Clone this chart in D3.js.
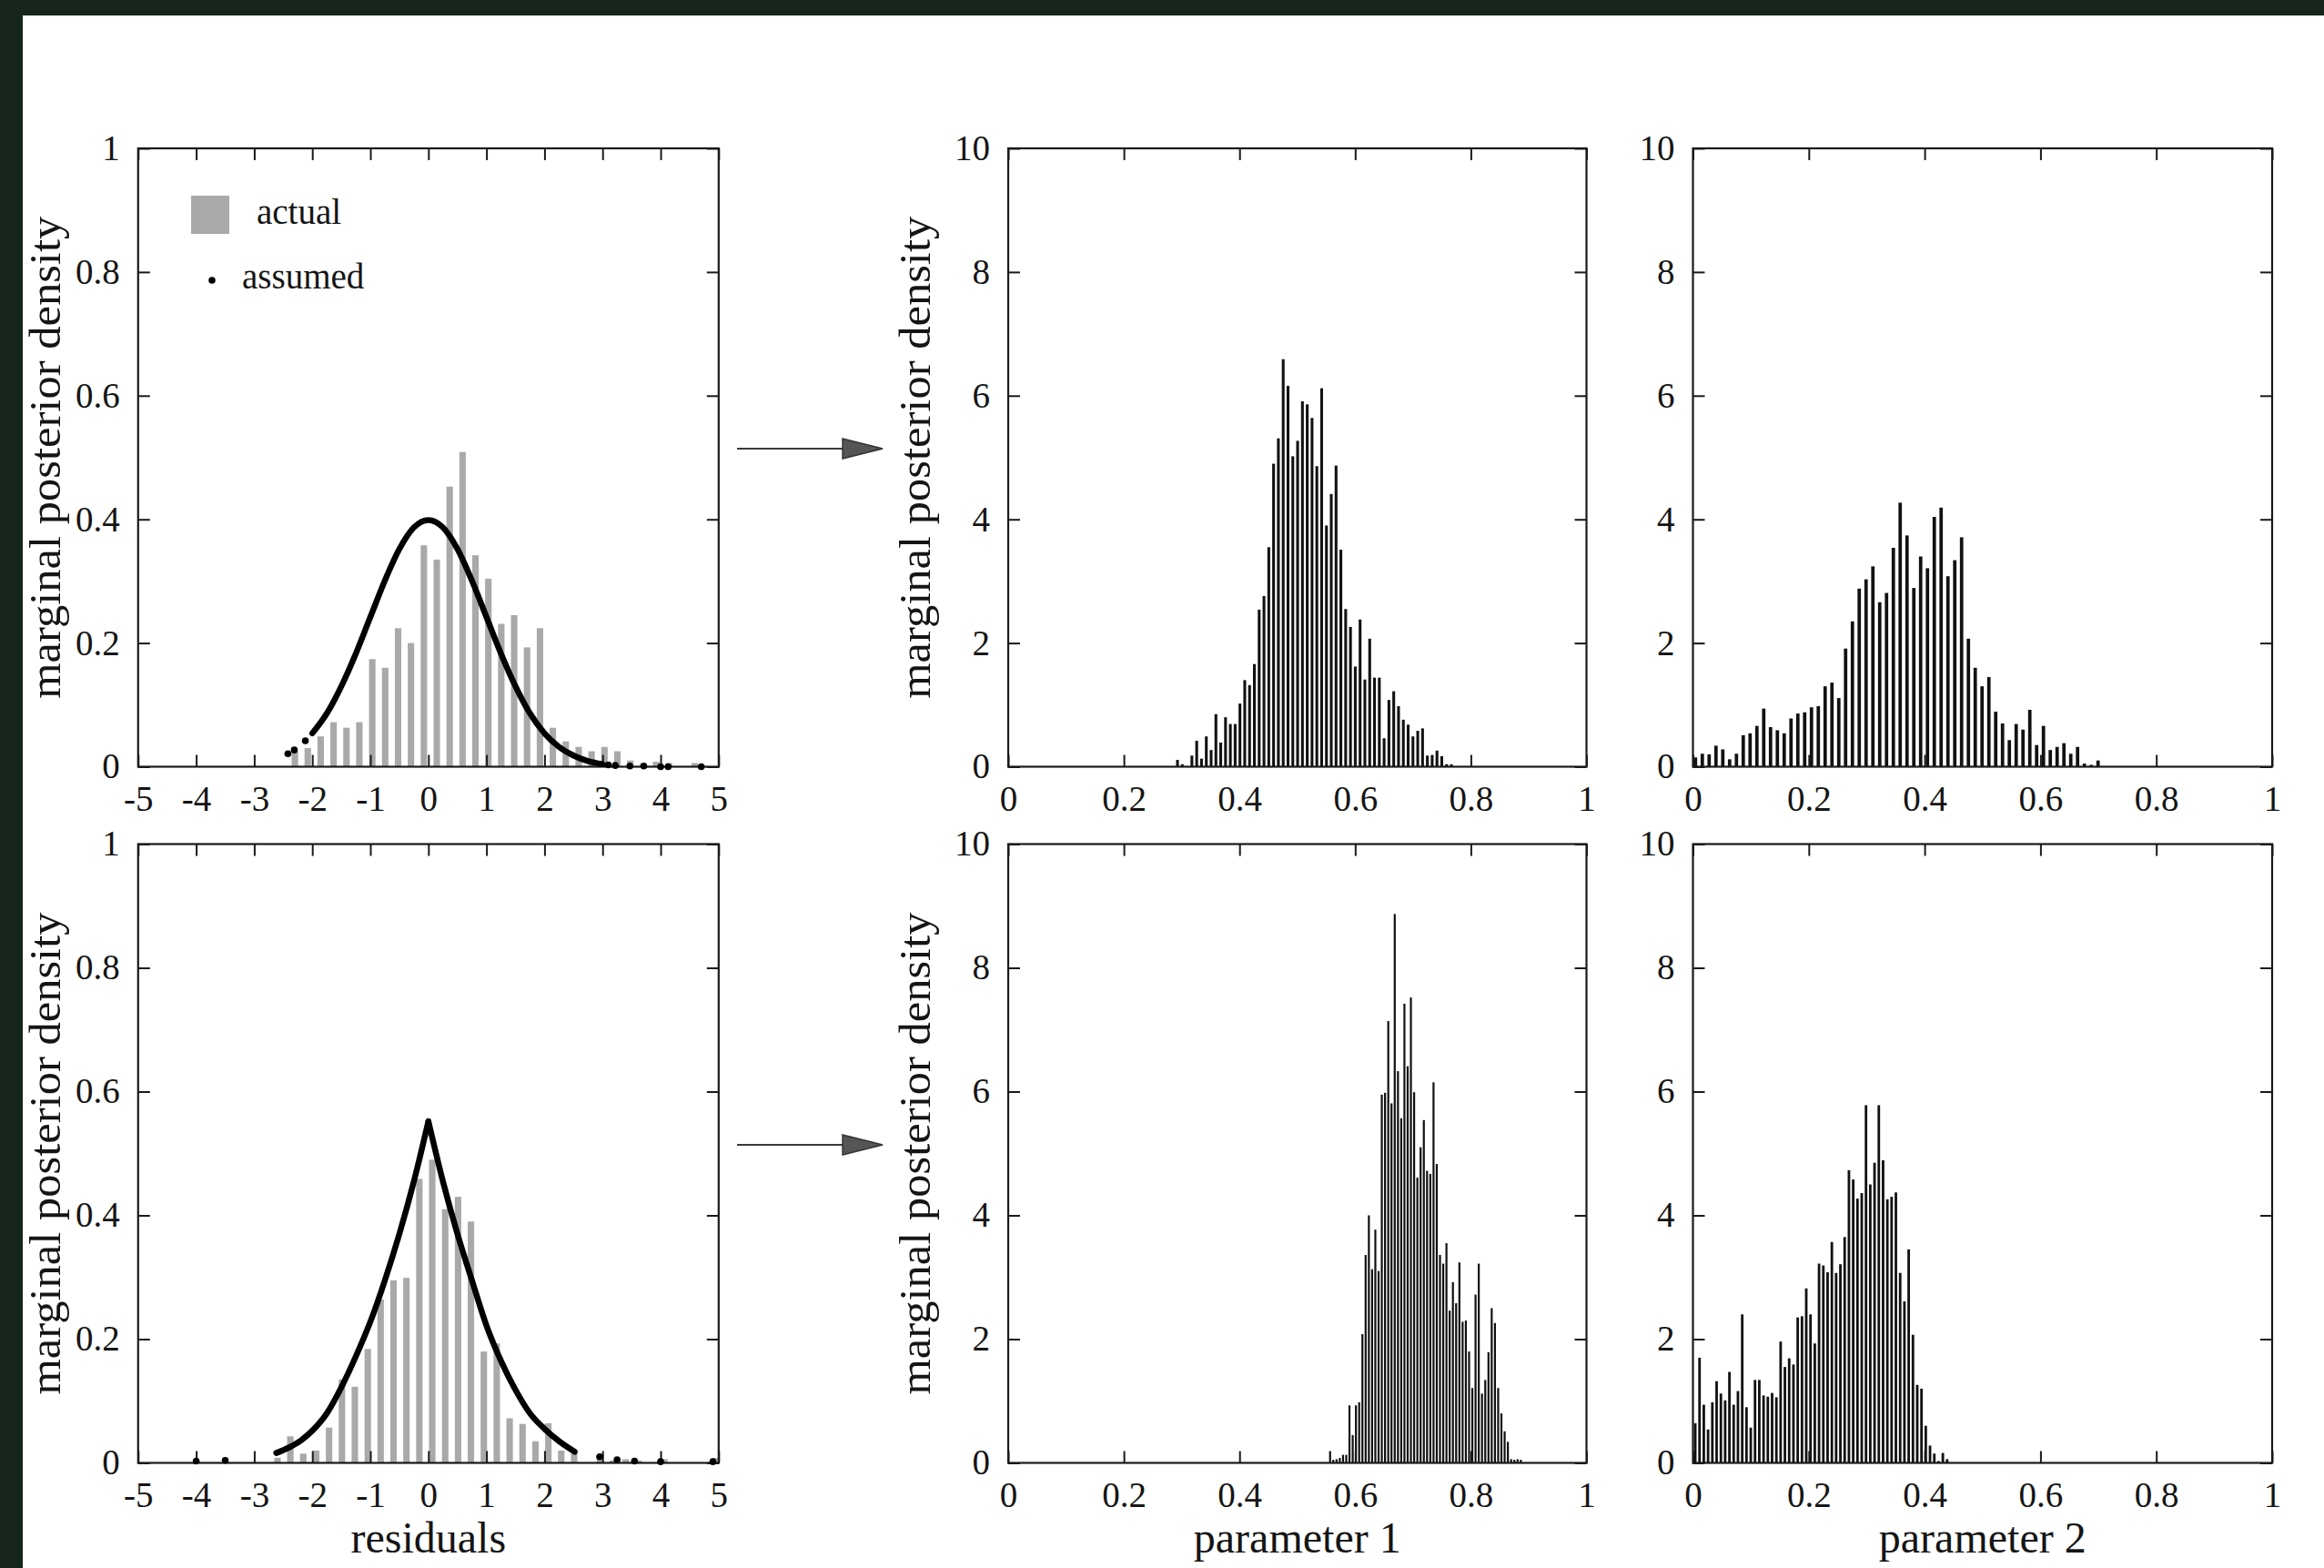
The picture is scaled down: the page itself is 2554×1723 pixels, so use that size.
<!DOCTYPE html>
<html>
<head>
<meta charset="utf-8">
<script src="https://cdn.jsdelivr.net/npm/d3@7"></script>
<style>
  html, body { margin: 0; padding: 0; background: #fff; }
  svg { display: block; }
  text { font-family: "Liberation Serif", "Times New Roman", serif; fill: #151515; }
</style>
</head>
<body>
<svg id="fig" width="2554" height="1723"></svg>
<script>
// ---- tick labels ----
const residualTicks = [-5, -4, -3, -2, -1, 0, 1, 2, 3, 4, 5];
const residualDensityTicks = [0, 0.2, 0.4, 0.6, 0.8, 1];
const paramTicks = [0, 0.2, 0.4, 0.6, 0.8, 1];
const paramDensityTicks = [0, 2, 4, 6, 8, 10];

// ---- top row: residual histogram ("actual") and assumed density dots ----
const topResidBinStart = -2.30;   // centre of first bin
const topResidBinWidth = 0.2222;
const topResidActual = [0.024, 0.030, 0.049, 0.072, 0.063, 0.072, 0.174, 0.160, 0.224, 0.200,
  0.358, 0.335, 0.453, 0.509, 0.342, 0.304, 0.231, 0.245, 0.193, 0.224,
  0.063, 0.041, 0.032, 0.025, 0.032, 0.025, 0.010, 0.005, 0.008, 0.006, 0, 0.006, 0];
const topAssumedX = [-2.0, -1.75, -1.5, -1.25, -1.0, -0.75, -0.5, -0.25, 0, 0.25, 0.5, 0.75,
  1.0, 1.25, 1.5, 1.75, 2.0, 2.25, 2.5, 2.75, 3.0];
const topAssumedY = [0.054, 0.086, 0.130, 0.183, 0.242, 0.301, 0.352, 0.387, 0.399, 0.387, 0.352, 0.301,
  0.242, 0.183, 0.130, 0.086, 0.054, 0.032, 0.018, 0.009, 0.004];
const topAssumedTailX = [-2.42, -2.31, -2.12, 3.1, 3.22, 3.47, 3.71, 4.0, 4.13, 4.7];
const topAssumedTailY = [0.021, 0.027, 0.042, 0.003, 0.002, 0.001, 0.001, 0, 0, 0];

// ---- bottom row: residual histogram and assumed density ----
const botResidBinStart = -2.60;
const botResidBinWidth = 0.2222;
const botResidActual = [0.008, 0.043, 0.015, 0.020, 0.057, 0.135, 0.123, 0.184, 0.264, 0.295,
  0.299, 0.459, 0.490, 0.410, 0.430, 0.390, 0.180, 0.193, 0.072, 0.063,
  0.035, 0.064, 0.020, 0.016, 0, 0.008, 0.004, 0.006, 0.004, 0, 0.006, 0, 0, 0, 0.008];
const botAssumedLeftX = [-2.62, -2.4, -2.2, -2.0, -1.75, -1.5, -1.25, -1.0, -0.75, -0.5, -0.25, 0];
const botAssumedLeftY = [0.016, 0.025, 0.036, 0.052, 0.080, 0.122, 0.172, 0.228, 0.295, 0.370, 0.455, 0.552];
const botAssumedRightX = [0, 0.25, 0.5, 0.75, 1.0, 1.25, 1.5, 1.75, 2.0, 2.25, 2.52];
const botAssumedRightY = [0.552, 0.455, 0.370, 0.295, 0.222, 0.165, 0.118, 0.080, 0.055, 0.035, 0.018];
const botAssumedTailX = [-4.0, -3.5, 2.95, 3.25, 3.55, 4.0, 4.9];
const botAssumedTailY = [0.003, 0.004, 0.010, 0.005, 0.003, 0.002, 0.002];

// ---- parameter posteriors ----
const topP1BinStart = 0.2927, topP1BinWidth = 0.00831;
const topP1 = [0.11, 0.04, 0, 0.18, 0.42, 0.13, 0.49, 0.27, 0.85, 0.39,
  0.80, 0.69, 0.69, 1.02, 1.40, 1.32, 1.66, 2.54, 2.76, 3.55,
  4.90, 5.31, 6.59, 6.16, 5.02, 5.27, 5.91, 5.86, 5.64, 4.86,
  6.12, 3.90, 4.41, 4.87, 3.51, 2.55, 2.26, 1.62, 2.38, 1.41,
  2.07, 1.44, 1.44, 0.46, 1.08, 1.22, 0.98, 0.76, 0.68, 0.49,
  0.58, 0.62, 0.18, 0.19, 0.26, 0.17, 0.04, 0.04];

const topP2BinStart = 0.0044, topP2BinWidth = 0.01178;
const topP2 = [0.15, 0.21, 0.20, 0.34, 0.28, 0.12, 0.21, 0.51, 0.54, 0.66,
  0.94, 0.64, 0.59, 0.54, 0.78, 0.86, 0.88, 0.96, 0.98, 1.30,
  1.36, 1.11, 1.91, 2.35, 2.88, 3.03, 3.24, 2.66, 2.81, 3.54,
  4.27, 3.74, 2.89, 3.40, 3.21, 4.04, 4.19, 3.08, 3.34, 3.71,
  2.07, 1.60, 1.30, 1.45, 0.89, 0.70, 0.43, 0.69, 0.60, 0.92,
  0.35, 0.66, 0.27, 0.32, 0.38, 0.21, 0.32, 0.05, 0.03, 0.10];

const botP1BinStart = 0.5566, botP1BinWidth = 0.00559;
const botP1 = [0.19, 0.05, 0.06, 0.08, 0.13, 0.13, 0.93, 0.45, 0.93, 0.98,
  2.08, 3.36, 4.00, 3.13, 3.77, 3.10, 5.95, 5.98, 7.14, 5.81,
  8.87, 6.33, 5.57, 7.42, 6.41, 7.52, 5.99, 4.61, 5.10, 5.54,
  4.72, 4.67, 6.15, 4.83, 3.36, 3.22, 3.55, 2.46, 2.92, 2.58,
  3.24, 2.28, 2.30, 1.80, 1.21, 2.72, 3.22, 1.12, 1.34, 1.79,
  2.50, 2.26, 1.21, 0.80, 0.51, 0.34, 0.06, 0.05, 0.06, 0.05];

const botP2BinStart = 0.004, botP2BinWidth = 0.00737;
const botP2 = [0.64, 1.70, 0.94, 0.54, 0.98, 1.32, 1.12, 1.01, 1.47, 0.94,
  1.16, 2.40, 0.90, 0.57, 1.34, 1.34, 1.09, 1.07, 1.13, 1.06,
  1.96, 1.55, 1.69, 1.59, 2.35, 2.37, 2.82, 2.40, 1.93, 3.22,
  3.19, 3.08, 3.57, 3.07, 3.21, 3.65, 4.73, 4.58, 4.27, 4.36,
  5.78, 4.50, 4.85, 5.78, 4.89, 4.26, 4.30, 4.37, 3.07, 2.61,
  3.45, 2.07, 1.26, 1.20, 0.60, 0.28, 0.15, 0.03, 0.16, 0.06];

const yLabel = 'marginal posterior density';

// ---- layout ----
const cols = [[151.8, 789.8], [1108, 1743.5], [1860.5, 2497]];
const rows = [[163, 842.5], [927.5, 1607.5]];
const tickLen = 13;
const tickFont = 39;

const svg = d3.select('#fig');
svg.append('rect').attr('width', 2554).attr('height', 1723).attr('fill', '#fff');

function styleAxis (sel) {
  sel.select('.domain').remove();
  sel.selectAll('line').attr('stroke', '#1a1a1a').attr('stroke-width', 2);
  sel.selectAll('text')
    .attr('font-family', '"Liberation Serif", "Times New Roman", serif')
    .attr('font-size', tickFont)
    .attr('fill', '#151515');
}

function drawPanel (cfg) {
  const [x0, x1] = cols[cfg.col];
  const [y0, y1] = rows[cfg.row];
  const x = d3.scaleLinear().domain(cfg.xDomain).range([x0, x1]);
  const y = d3.scaleLinear().domain(cfg.yDomain).range([y1, y0]);
  const g = svg.append('g');

  // histogram bars
  const barW = x(cfg.binWidth * cfg.frac) - x(0);
  g.append('g').selectAll('rect')
    .data(cfg.heights)
    .join('rect')
      .attr('x', (d, i) => x(cfg.binStart + i * cfg.binWidth) - barW / 2)
      .attr('width', barW)
      .attr('y', (d) => y(d))
      .attr('height', (d) => Math.max(y(0) - y(d), 0))
      .attr('fill', cfg.barColor);

  const fmt = (d) => String(d);

  // bottom axis with labels, ticks pointing in
  g.append('g')
    .attr('transform', 'translate(0,' + y1 + ')')
    .call(d3.axisBottom(x).tickValues(cfg.xTicks).tickSizeInner(-tickLen).tickSizeOuter(0)
      .tickPadding(21).tickFormat(fmt))
    .call(styleAxis);

  // top axis, ticks only
  g.append('g')
    .attr('transform', 'translate(0,' + y0 + ')')
    .call(d3.axisTop(x).tickValues(cfg.xTicks).tickSizeInner(-tickLen).tickSizeOuter(0)
      .tickFormat(''))
    .call(styleAxis);

  // left axis with labels
  g.append('g')
    .attr('transform', 'translate(' + x0 + ',0)')
    .call(d3.axisLeft(y).tickValues(cfg.yTicks).tickSizeInner(-tickLen).tickSizeOuter(0)
      .tickPadding(20).tickFormat(fmt))
    .call(styleAxis);

  // right axis, ticks only
  g.append('g')
    .attr('transform', 'translate(' + x1 + ',0)')
    .call(d3.axisRight(y).tickValues(cfg.yTicks).tickSizeInner(-tickLen).tickSizeOuter(0)
      .tickFormat(''))
    .call(styleAxis);

  // frame
  g.append('rect')
    .attr('x', x0).attr('y', y0)
    .attr('width', x1 - x0).attr('height', y1 - y0)
    .attr('fill', 'none')
    .attr('stroke', '#1a1a1a')
    .attr('stroke-width', 2.2);

  if (cfg.yLabel) {
    const cx = x0 - 86;
    const cy = (y0 + y1) / 2;
    g.append('text')
      .attr('transform', 'translate(' + cx + ',' + cy + ') rotate(-90)')
      .attr('text-anchor', 'middle')
      .attr('font-size', 48)
      .attr('textLength', 530)
      .attr('lengthAdjust', 'spacingAndGlyphs')
      .text(cfg.yLabel);
  }

  if (cfg.xLabel) {
    g.append('text')
      .attr('x', (x0 + x1) / 2)
      .attr('y', 1706)
      .attr('text-anchor', 'middle')
      .attr('font-size', 48)
      .text(cfg.xLabel);
  }

  return { g, x, y };
}

// assumed density drawn as a dense run of dots (thick line) plus sparse tail dots
function drawAssumed (p, segments, tailX, tailY) {
  const line = d3.line()
    .x((d) => p.x(d[0]))
    .y((d) => p.y(d[1]))
    .curve(d3.curveMonotoneX);
  segments.forEach(([xs, ys]) => {
    p.g.append('path')
      .datum(xs.map((v, i) => [v, ys[i]]))
      .attr('d', line)
      .attr('fill', 'none')
      .attr('stroke', '#000')
      .attr('stroke-width', 6.5)
      .attr('stroke-linecap', 'round')
      .attr('stroke-linejoin', 'round');
  });
  p.g.append('g').selectAll('circle')
    .data(tailX.map((v, i) => [v, tailY[i]]))
    .join('circle')
      .attr('cx', (d) => p.x(d[0]))
      .attr('cy', (d) => p.y(d[1]))
      .attr('r', 3.8)
      .attr('fill', '#000');
}

// ---- top-left ----
const tl = drawPanel({
  col: 0, row: 0, xDomain: [-5, 5], yDomain: [0, 1],
  xTicks: residualTicks, yTicks: residualDensityTicks,
  heights: topResidActual, binStart: topResidBinStart, binWidth: topResidBinWidth,
  frac: 0.5, barColor: '#a9a9a9', yLabel: yLabel
});
drawAssumed(tl, [[topAssumedX, topAssumedY]], topAssumedTailX, topAssumedTailY);

// legend
const legend = tl.g.append('g');
legend.append('rect')
  .attr('x', 210).attr('y', 215).attr('width', 42).attr('height', 42)
  .attr('fill', '#a9a9a9');
legend.append('text')
  .attr('x', 282).attr('y', 246)
  .attr('font-size', tickFont)
  .text('actual');
legend.append('circle')
  .attr('cx', 233).attr('cy', 308).attr('r', 3.8)
  .attr('fill', '#000');
legend.append('text')
  .attr('x', 266).attr('y', 317)
  .attr('font-size', tickFont)
  .text('assumed');

// ---- top-middle / top-right ----
drawPanel({
  col: 1, row: 0, xDomain: [0, 1], yDomain: [0, 10],
  xTicks: paramTicks, yTicks: paramDensityTicks,
  heights: topP1, binStart: topP1BinStart, binWidth: topP1BinWidth,
  frac: 0.58, barColor: '#111', yLabel: yLabel
});
drawPanel({
  col: 2, row: 0, xDomain: [0, 1], yDomain: [0, 10],
  xTicks: paramTicks, yTicks: paramDensityTicks,
  heights: topP2, binStart: topP2BinStart, binWidth: topP2BinWidth,
  frac: 0.5, barColor: '#111'
});

// ---- bottom row ----
const bl = drawPanel({
  col: 0, row: 1, xDomain: [-5, 5], yDomain: [0, 1],
  xTicks: residualTicks, yTicks: residualDensityTicks,
  heights: botResidActual, binStart: botResidBinStart, binWidth: botResidBinWidth,
  frac: 0.5, barColor: '#a9a9a9', yLabel: yLabel, xLabel: 'residuals'
});
drawAssumed(bl, [[botAssumedLeftX, botAssumedLeftY], [botAssumedRightX, botAssumedRightY]],
  botAssumedTailX, botAssumedTailY);

drawPanel({
  col: 1, row: 1, xDomain: [0, 1], yDomain: [0, 10],
  xTicks: paramTicks, yTicks: paramDensityTicks,
  heights: botP1, binStart: botP1BinStart, binWidth: botP1BinWidth,
  frac: 0.62, barColor: '#111', yLabel: yLabel, xLabel: 'parameter 1'
});
drawPanel({
  col: 2, row: 1, xDomain: [0, 1], yDomain: [0, 10],
  xTicks: paramTicks, yTicks: paramDensityTicks,
  heights: botP2, binStart: botP2BinStart, binWidth: botP2BinWidth,
  frac: 0.6, barColor: '#111', xLabel: 'parameter 2'
});

// ---- arrows between residual and parameter panels ----
[493, 1258].forEach((ay) => {
  svg.append('line')
    .attr('x1', 810).attr('x2', 932).attr('y1', ay).attr('y2', ay)
    .attr('stroke', '#3a3a3a').attr('stroke-width', 2.2);
  svg.append('path')
    .attr('d', 'M926,' + (ay - 11) + 'L970,' + ay + 'L926,' + (ay + 11) + 'Z')
    .attr('fill', '#555').attr('stroke', '#333').attr('stroke-width', 1.5);
});

// ---- dark frame along the top and left edges ----
svg.append('rect').attr('x', 0).attr('y', 0).attr('width', 2554).attr('height', 17).attr('fill', '#16261a');
svg.append('rect').attr('x', 0).attr('y', 0).attr('width', 25).attr('height', 1723).attr('fill', '#16261a');
</script>
</body>
</html>
